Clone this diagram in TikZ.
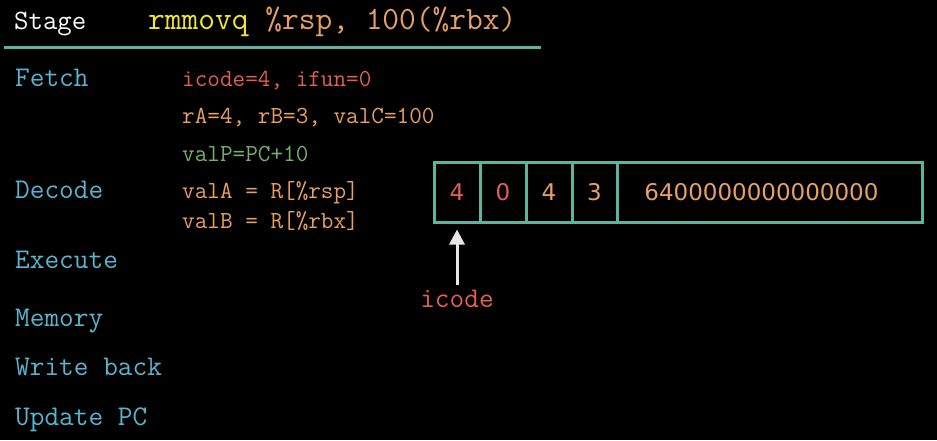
\documentclass[tikz,border=0pt]{standalone}
\usepackage{fontspec}
\newfontfamily\bytefont{DejaVu Sans}
\usetikzlibrary{arrows.meta}
\definecolor{stagecol}{HTML}{5AB4CE}
\definecolor{redcol}{HTML}{E2604E}
\definecolor{orangecol}{HTML}{E8A062}
\definecolor{greencol}{HTML}{76B06C}
\definecolor{yellowcol}{HTML}{F2E62E}
\definecolor{tealcol}{HTML}{5AB4A0}
\definecolor{arrowcol}{HTML}{E6E6E6}
\tikzset{
    txt/.style = {anchor = base west, inner sep = 0pt},
    cell/.style = {draw = tealcol, line width = 3pt, minimum height = 60pt, inner sep = 0pt,
        font = \fontsize{23}{28}\selectfont\bytefont, text = orangecol},
}
\begin{document}
\begin{tikzpicture}[x = 1pt, y = -1pt]
        \fill[black] (0,0) rectangle (937,440);
        \useasboundingbox (0,0) rectangle (937,440);
        % header
        \node[txt, text = white, font = \fontsize{28}{33}\selectfont\ttfamily] (stage) at (14,29) {Stage};
        \node[txt, font = \fontsize{32.5}{38}\selectfont\ttfamily] (instr) at (148,29)
            {\textcolor{yellowcol}{rmmovq} \textcolor{orangecol}{\%rsp, 100(\%rbx)}};
        \draw[tealcol, line width = 3pt] (4,47) -- (541,47);
        % stage names
        \begin{scope}[every node/.append style = {txt, text = stagecol, font = \fontsize{28.5}{34}\selectfont\ttfamily}]
            \node (fetch) at (15,86) {Fetch};
            \node (decode) at (15,198) {Decode};
            \node (execute) at (15,268) {Execute};
            \node (memory) at (15,326) {Memory};
            \node (wback) at (15,375) {Write back};
            \node (updpc) at (15,425) {Update PC};
        \end{scope}
        % computations
        \begin{scope}[every node/.append style = {txt, font = \fontsize{24.5}{29}\selectfont\ttfamily}]
            \node[text = redcol] (ficode) at (182,86) {icode=4, ifun=0};
            \node[text = orangecol] (fregs) at (182,123) {rA=4, rB=3, valC=100};
            \node[text = greencol] (fvalp) at (182,161) {valP=PC+10};
            \node[text = orangecol] (dvala) at (182,198) {valA = R[\%rsp]};
            \node[text = orangecol] (dvalb) at (182,228) {valB = R[\%rbx]};
        \end{scope}
        % instruction bytes
        \node[cell, minimum width = 46pt, text = redcol] (b1) at (457,192) {4};
        \node[cell, minimum width = 46pt, text = redcol] (b2) at (503,192) {0};
        \node[cell, minimum width = 46pt] (b3) at (549,192) {4};
        \node[cell, minimum width = 45pt] (b4) at (594.5,192) {3};
        \node[cell, minimum width = 305pt] (b5) at (769.5,192) {\hspace*{-16pt}6400000000000000};
        \node[text = redcol, anchor = base, inner sep = 0pt, font = \fontsize{28.5}{34}\selectfont\ttfamily] (icodelbl) at (457,307) {icode};
        \draw[arrowcol, line width = 3pt, -{Triangle[width = 15pt, length = 15pt]}, shorten > = 6pt]
            ([yshift = 4pt]icodelbl.north) -- (b1.south);
    \end{tikzpicture}
\end{document}
